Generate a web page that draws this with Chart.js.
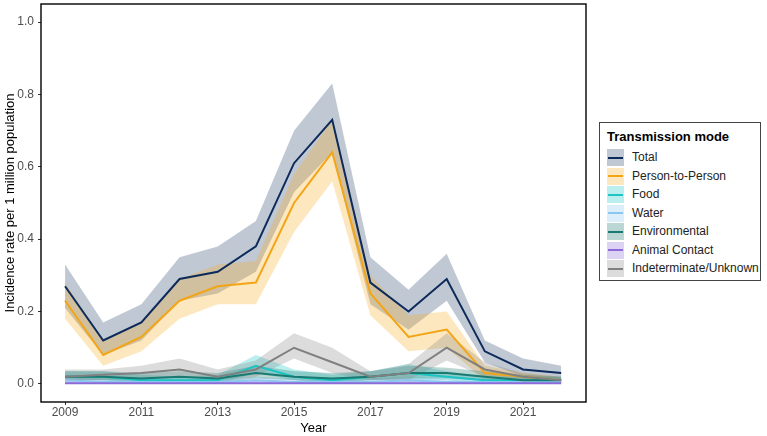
<!DOCTYPE html>
<html lang="en">
  <head>
    <meta charset="UTF-8" />
    <title>Transmission mode</title>
    <script src="https://cdn.jsdelivr.net/npm/chart.js"></script>
    <style>
      body { margin: 0; background: #fff; font-family: "Liberation Sans", Arial, sans-serif; }
      #wrap { position: relative; width: 767px; height: 436px; }
      #legend {
        position: absolute; left: 599px; top: 122px; width: 162px; height: 159px;
        border: 1px solid #444; box-sizing: border-box; background: #fff;
      }
      #legend .title { position: absolute; left: 7px; top: 6px; font-size: 13px; font-weight: bold; color: #000; }
      #legend .item { position: absolute; left: 7px; height: 17px; font-size: 12px; color: #222; }
      #legend .key { position: absolute; left: 0; top: 0; width: 17px; height: 17px; }
      #legend .key i { position: absolute; left: 1px; right: 1px; top: 7.5px; height: 2px; }
      #legend .lab { position: absolute; left: 25px; top: 1px; white-space: nowrap; }
    </style>
  </head>
  <body>
    <div id="wrap">
      <canvas id="myChart" width="767" height="436"></canvas>
      <div id="legend"><div class="title">Transmission mode</div></div>
    </div>
  </body>
  <script>
    // 데이터
    const years = [2009, 2010, 2011, 2012, 2013, 2014, 2015, 2016, 2017, 2018, 2019, 2020, 2021, 2022];

    const total   = [0.27, 0.12, 0.17, 0.29, 0.31, 0.38, 0.61, 0.73, 0.28, 0.20, 0.29, 0.09, 0.04, 0.03];
    const totalHi = [0.33, 0.17, 0.22, 0.35, 0.38, 0.45, 0.70, 0.83, 0.35, 0.26, 0.36, 0.12, 0.07, 0.05];
    const totalLo = [0.21, 0.08, 0.12, 0.23, 0.25, 0.31, 0.53, 0.64, 0.22, 0.15, 0.23, 0.06, 0.02, 0.01];

    const p2p   = [0.23, 0.08, 0.13, 0.23, 0.27, 0.28, 0.50, 0.64, 0.25, 0.13, 0.15, 0.03, 0.02, 0.01];
    const p2pHi = [0.28, 0.12, 0.17, 0.29, 0.33, 0.34, 0.58, 0.73, 0.30, 0.19, 0.20, 0.05, 0.03, 0.02];
    const p2pLo = [0.18, 0.05, 0.09, 0.18, 0.22, 0.22, 0.42, 0.56, 0.19, 0.09, 0.10, 0.01, 0.00, 0.00];

    const food   = [0.02, 0.02, 0.01, 0.01, 0.01, 0.05, 0.02, 0.01, 0.02, 0.03, 0.02, 0.01, 0.01, 0.01];
    const foodHi = [0.035, 0.035, 0.025, 0.02, 0.025, 0.08, 0.04, 0.025, 0.035, 0.055, 0.035, 0.02, 0.02, 0.02];
    const foodLo = [0.01, 0.01, 0.00, 0.00, 0.00, 0.03, 0.01, 0.00, 0.01, 0.01, 0.01, 0.00, 0.00, 0.00];

    const water   = [0.01, 0.005, 0.005, 0.005, 0.005, 0.01, 0.005, 0.005, 0.005, 0.01, 0.005, 0.005, 0.005, 0.005];
    const waterHi = [0.02, 0.015, 0.015, 0.015, 0.015, 0.02, 0.015, 0.015, 0.015, 0.02, 0.015, 0.015, 0.015, 0.015];
    const waterLo = [0.00, 0.00, 0.00, 0.00, 0.00, 0.00, 0.00, 0.00, 0.00, 0.00, 0.00, 0.00, 0.00, 0.00];

    const env   = [0.02, 0.02, 0.015, 0.02, 0.015, 0.03, 0.02, 0.015, 0.02, 0.03, 0.03, 0.02, 0.01, 0.01];
    const envHi = [0.035, 0.035, 0.03, 0.035, 0.03, 0.05, 0.035, 0.03, 0.035, 0.05, 0.045, 0.035, 0.025, 0.02];
    const envLo = [0.01, 0.01, 0.005, 0.01, 0.005, 0.015, 0.01, 0.005, 0.01, 0.015, 0.015, 0.01, 0.00, 0.00];

    const animal   = [0.002, 0.002, 0.002, 0.002, 0.002, 0.002, 0.002, 0.002, 0.002, 0.002, 0.002, 0.002, 0.002, 0.002];
    const animalHi = [0.008, 0.008, 0.008, 0.008, 0.008, 0.008, 0.008, 0.008, 0.008, 0.008, 0.008, 0.008, 0.008, 0.008];
    const animalLo = [0.00, 0.00, 0.00, 0.00, 0.00, 0.00, 0.00, 0.00, 0.00, 0.00, 0.00, 0.00, 0.00, 0.00];

    const indet   = [0.02, 0.025, 0.03, 0.04, 0.02, 0.04, 0.10, 0.06, 0.02, 0.03, 0.10, 0.04, 0.02, 0.01];
    const indetHi = [0.04, 0.04, 0.05, 0.07, 0.04, 0.065, 0.14, 0.10, 0.035, 0.055, 0.14, 0.06, 0.03, 0.02];
    const indetLo = [0.01, 0.01, 0.015, 0.02, 0.01, 0.02, 0.07, 0.03, 0.01, 0.01, 0.065, 0.02, 0.01, 0.00];

    const xTicks = [2009, 2011, 2013, 2015, 2017, 2019, 2021];
    const yTicks = [0, 0.2, 0.4, 0.6, 0.8, 1.0];

    const series = [
      { label: "Total", mid: total, hi: totalHi, lo: totalLo, line: "#0c2a5a", band: "rgba(12,42,90,0.26)" },
      { label: "Person-to-Person", mid: p2p, hi: p2pHi, lo: p2pLo, line: "#f2a516", band: "rgba(250,175,40,0.30)" },
      { label: "Food", mid: food, hi: foodHi, lo: foodLo, line: "#1cc4c4", band: "rgba(30,200,200,0.30)" },
      { label: "Water", mid: water, hi: waterHi, lo: waterLo, line: "#8cc6f0", band: "rgba(140,198,240,0.30)" },
      { label: "Environmental", mid: env, hi: envHi, lo: envLo, line: "#1a7a72", band: "rgba(26,122,114,0.30)" },
      { label: "Animal Contact", mid: animal, hi: animalHi, lo: animalLo, line: "#8c6bd8", band: "rgba(140,107,216,0.30)" },
      { label: "Indeterminate/Unknown", mid: indet, hi: indetHi, lo: indetLo, line: "#808080", band: "rgba(128,128,128,0.28)" },
    ];

    const pts = (arr) => arr.map((v, i) => ({ x: years[i], y: v }));

    // 밴드(하한, 상한) 먼저, 선은 나중에
    const datasets = [];
    series.forEach((s, i) => {
      const loIdx = datasets.length;
      datasets.push({
        data: pts(s.lo), borderWidth: 0, borderColor: "transparent",
        pointRadius: 0, fill: false, order: 50 - i,
      });
      datasets.push({
        data: pts(s.hi), borderWidth: 0, borderColor: "transparent",
        backgroundColor: s.band, pointRadius: 0, fill: loIdx, order: 50 - i,
      });
    });
    series.forEach((s, i) => {
      datasets.push({
        label: s.label, data: pts(s.mid), borderColor: s.line, borderWidth: 2,
        pointRadius: 0, fill: false, order: 10 - i, tension: 0,
      });
    });

    // 패널 테두리
    const panelBorder = {
      id: "panelBorder",
      afterDraw(chart) {
        const { ctx, chartArea: a } = chart;
        ctx.save();
        ctx.strokeStyle = "#000";
        ctx.lineWidth = 1.4;
        ctx.strokeRect(a.left, a.top, a.right - a.left, a.bottom - a.top);
        ctx.restore();
      },
    };

    const tickFont = { family: "'Liberation Sans', Arial, sans-serif", size: 12 };
    const titleFont = { family: "'Liberation Sans', Arial, sans-serif", size: 13 };

    const ctx = document.querySelector("#myChart");
    new Chart(ctx, {
      type: "line",
      data: { datasets },
      plugins: [panelBorder],
      options: {
        responsive: false,
        animation: false,
        layout: { padding: { left: 0, top: 4, right: 181, bottom: 0 } },
        plugins: {
          legend: { display: false },
          tooltip: { enabled: false },
          filler: { drawTime: "beforeDatasetsDraw" },
        },
        scales: {
          x: {
            type: "linear", min: 2008.37, max: 2022.65,
            afterBuildTicks: (s) => { s.ticks = xTicks.map((v) => ({ value: v })); },
            afterFit: (s) => { s.height = 34; s.paddingLeft = 0; s.paddingRight = 0; },
            border: { display: false },
            grid: { drawOnChartArea: false, tickLength: 3, tickColor: "#333", tickWidth: 1 },
            ticks: { color: "#4d4d4d", font: tickFont, padding: 0, autoSkip: false, maxRotation: 0,
              callback: (v) => String(v) },
            title: { display: true, text: "Year", color: "#000", font: titleFont, padding: { top: 0, bottom: 0 } },
          },
          y: {
            min: -0.05, max: 1.05,
            afterBuildTicks: (s) => { s.ticks = yTicks.map((v) => ({ value: v })); },
            afterFit: (s) => { s.width = 41; s.paddingTop = 0; s.paddingBottom = 0; },
            border: { display: false },
            grid: { drawOnChartArea: false, tickLength: 3, tickColor: "#333", tickWidth: 1 },
            ticks: { color: "#4d4d4d", font: tickFont, padding: 4, callback: (v) => v.toFixed(1) },
            title: { display: true, text: "Incidence rate per 1 million population", color: "#000",
              font: titleFont, padding: { top: 3, bottom: 0 } },
          },
        },
      },
    });

    // 범례
    const legend = document.querySelector("#legend");
    series.forEach((s, i) => {
      const item = document.createElement("div");
      item.className = "item";
      item.style.top = 26 + i * 18.5 + "px";
      item.innerHTML =
        '<div class="key" style="background:' + s.band + '"><i style="background:' + s.line + '"></i></div>' +
        '<div class="lab">' + s.label + "</div>";
      legend.appendChild(item);
    });
  </script>
</html>
